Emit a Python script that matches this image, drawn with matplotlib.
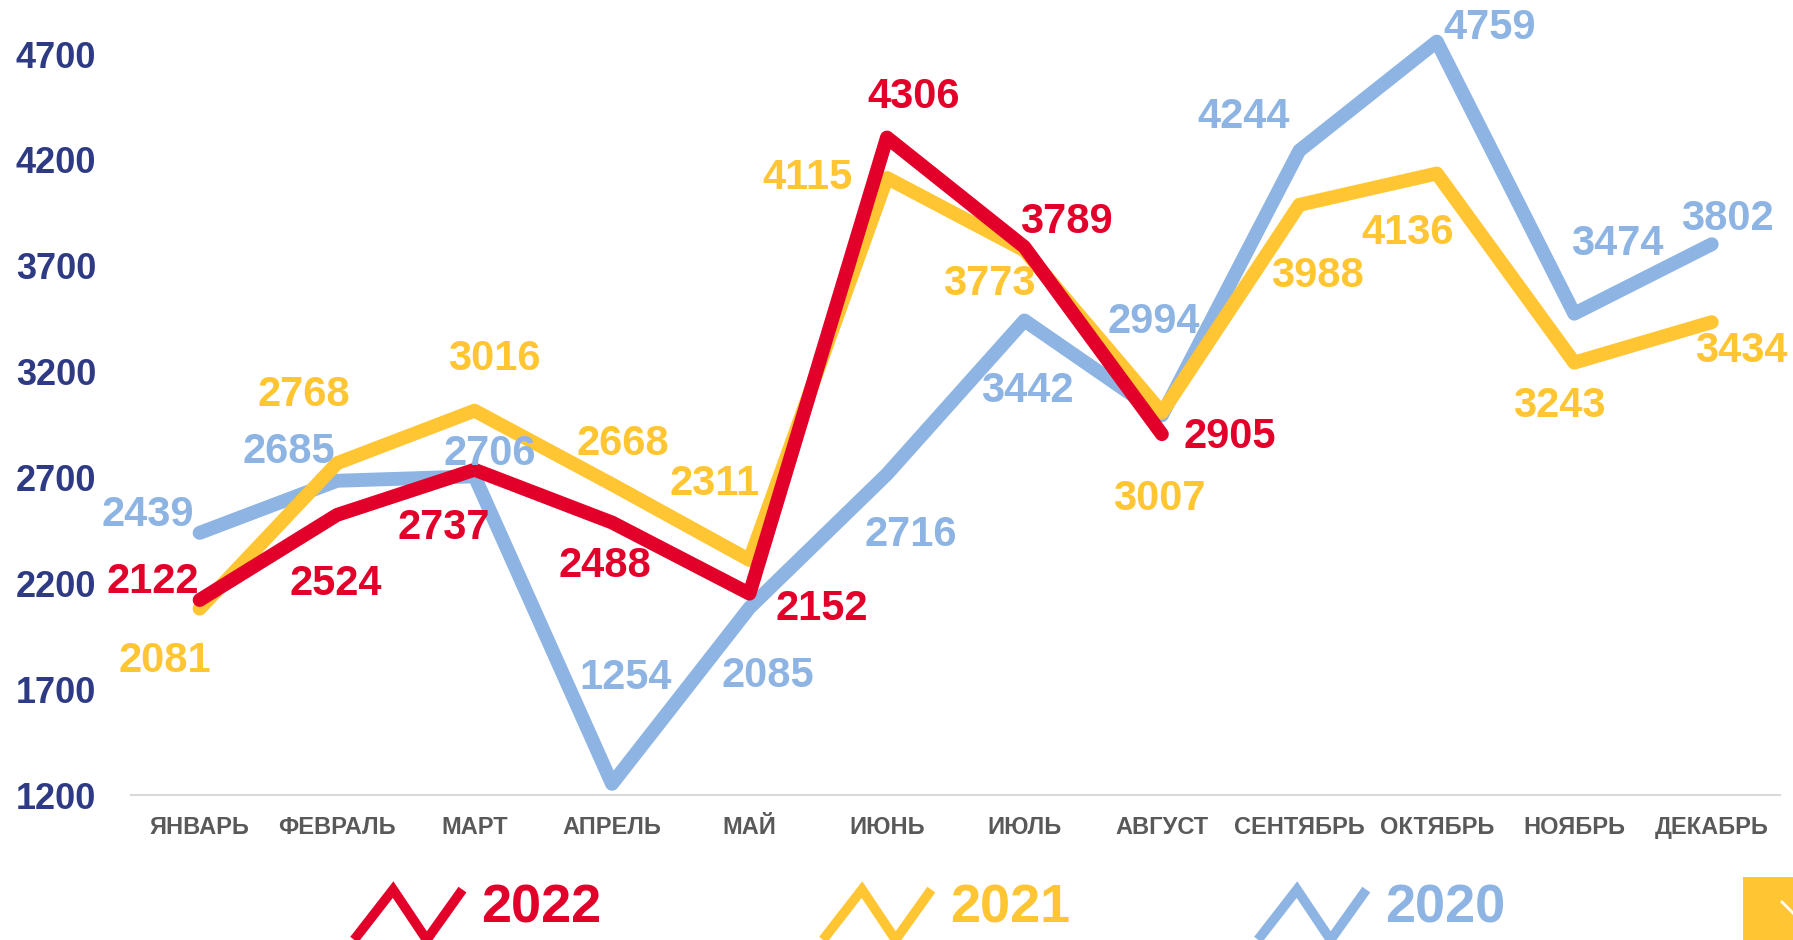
import matplotlib

matplotlib.use("Agg")
import matplotlib.pyplot as plt
import numpy as np
from matplotlib.legend_handler import HandlerBase
from matplotlib.lines import Line2D
from matplotlib.patches import Rectangle

plt.rcParams["font.family"] = ["Liberation Sans", "DejaVu Sans"]
plt.rcParams["font.weight"] = "bold"

months = ["ЯНВАРЬ", "ФЕВРАЛЬ", "МАРТ", "АПРЕЛЬ", "МАЙ", "ИЮНЬ",
          "ИЮЛЬ", "АВГУСТ", "СЕНТЯБРЬ", "ОКТЯБРЬ", "НОЯБРЬ", "ДЕКАБРЬ"]
years = ["2022", "2021", "2020"]
values_2022 = [2122, 2524, 2737, 2488, 2152, 4306, 3789, 2905]
values_2021 = [2081, 2768, 3016, 2668, 2311, 4115, 3773, 3007, 3988, 4136, 3243, 3434]
values_2020 = [2439, 2685, 2706, 1254, 2085, 2716, 3442, 2994, 4244, 4759, 3474, 3802]
y_ticks = [1200, 1700, 2200, 2700, 3200, 3700, 4200, 4700]

colors = {"2022": "#E2002B", "2021": "#FFC532", "2020": "#8DB4E2"}

# label offsets in points (dx, dy), placement only
offsets = {
    "2022": [(-34, 13), (-1, -50), (-22, -42), (-5, -31), (52, -11), (19, 29), (30, 18), (49, -2)],
    "2021": [(-25, -38), (-24, 49), (14, 37), (8, 29), (-25, 55), (-57, 0), (-25, -24),
             (-2, -62), (13, -51), (-21, -43), (-11, -31), (21, -21)],
    "2020": [(-37, 13), (-35, 21), (11, 16), (10, 76), (13, -49), (17, -44), (2, -51),
             (-6, 67), (-40, 24), (38, 10), (31, 50), (11, 18)],
}
series = {"2022": values_2022, "2021": values_2021, "2020": values_2020}
legend_x = {"2022": 0.1975, "2021": 0.459, "2020": 0.7016}


class ZigzagHandler(HandlerBase):
    def create_artists(self, legend, orig_handle, xdescent, ydescent,
                       width, height, fontsize, trans):
        xs = np.array([0.0, 0.36, 0.67, 1.0]) * width - xdescent
        ys = np.array([-0.45, 0.85, -0.45, 0.85]) * height - ydescent
        line = Line2D(xs, ys, color=orig_handle.get_color(), lw=7,
                      solid_joinstyle="miter", solid_capstyle="butt")
        line.set_transform(trans)
        return [line]


fig = plt.figure(figsize=(17.93, 9.40), dpi=100)
ax = fig.add_axes([0.073, 0.154, 0.920, 0.811])

x = np.arange(len(months))
for year in ["2020", "2021", "2022"]:
    vals = series[year]
    ax.plot(x[:len(vals)], vals, color=colors[year], lw=10,
            solid_joinstyle="round", solid_capstyle="round", label=year)
for year in ["2020", "2021", "2022"]:
    vals = series[year]
    for i, v in enumerate(vals):
        ax.annotate(str(v), (x[i], v), xytext=offsets[year][i], textcoords="offset points",
                    ha="center", va="center", fontsize=30, fontweight="bold",
                    color=colors[year], zorder=5, annotation_clip=False)

ax.set_xlim(-0.5, 11.5)
ax.set_ylim(1200, 4800)
ax.set_xticks(x)
ax.set_xticklabels(months, fontsize=17, fontweight="bold", color="#595959")
ax.set_yticks(y_ticks)
ax.set_yticklabels([str(t) for t in y_ticks], fontsize=26, fontweight="bold", color="#2E3B84")
ax.tick_params(axis="both", length=0)
ax.tick_params(axis="x", pad=15)
ax.tick_params(axis="y", pad=25)
for side in ["top", "right", "left"]:
    ax.spines[side].set_visible(False)
ax.spines["bottom"].set_color("#D9D9D9")
ax.spines["bottom"].set_linewidth(1.5)

for year in years:
    leg = fig.legend([Line2D([0], [0], color=colors[year])], [year], loc="center left",
                     bbox_to_anchor=(legend_x[year], 0.034), frameon=False, fontsize=39,
                     labelcolor=colors[year], handler_map={Line2D: ZigzagHandler()},
                     handlelength=2.0, handleheight=0.72, handletextpad=0.35,
                     borderpad=0, borderaxespad=0)

# corner decoration
fig.add_artist(Rectangle((1743 / 1793, 0), 50 / 1793, 63 / 940, transform=fig.transFigure,
                         facecolor="#FFC532", edgecolor="none"))
fig.add_artist(Line2D([1782 / 1793, 1.0], [38 / 940, 27 / 940], transform=fig.transFigure,
                      color="white", lw=2))

fig.savefig("out.png", dpi=100)
plt.close(fig)
